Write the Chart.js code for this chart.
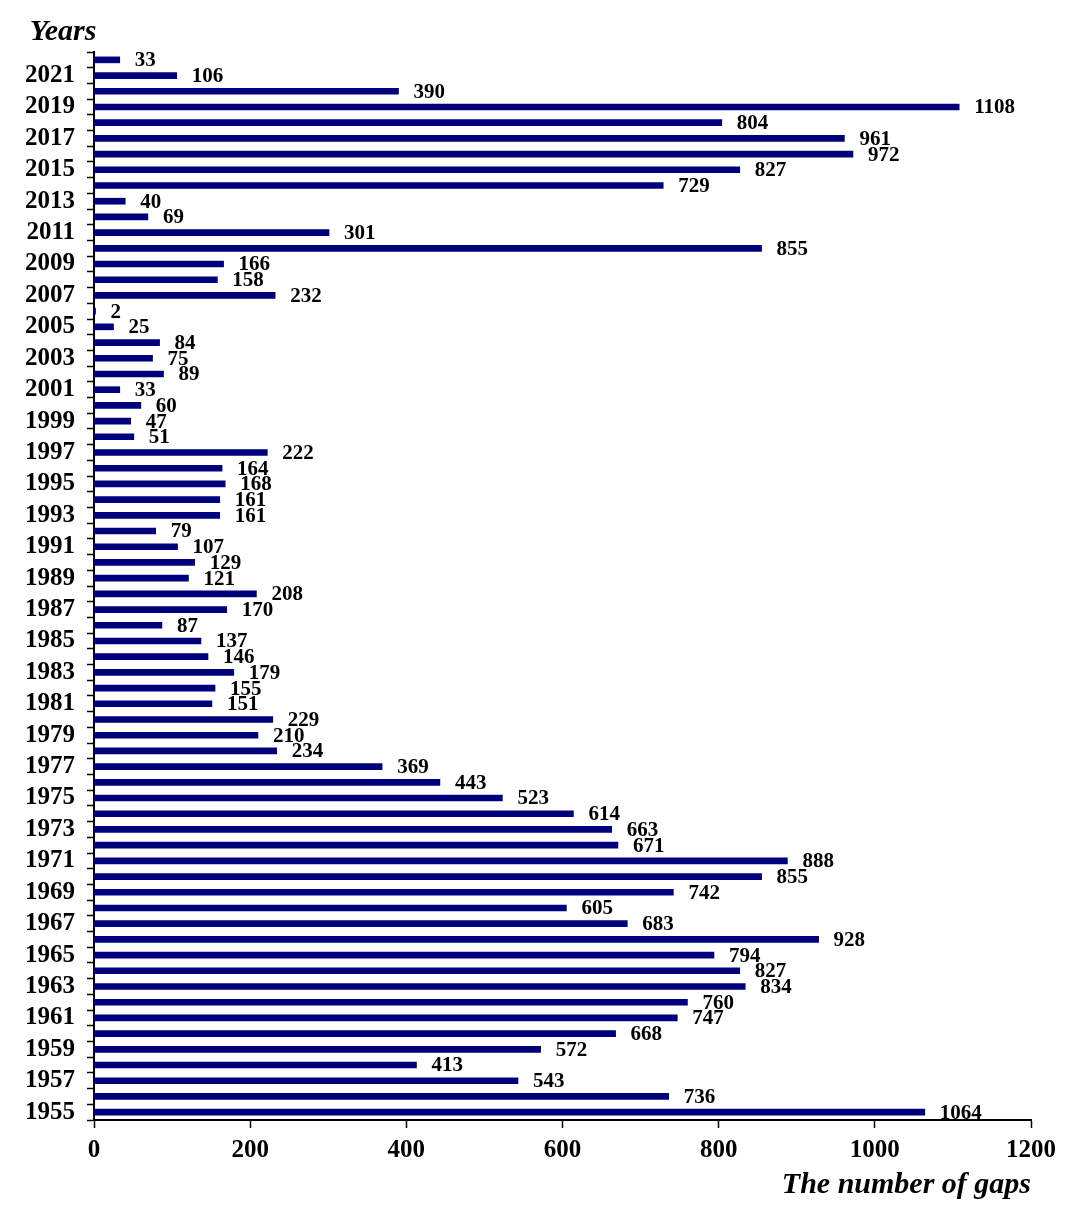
<!DOCTYPE html>
<html lang="en">
<head>
<meta charset="UTF-8">
<title>The number of gaps by year</title>
<script src="https://cdn.jsdelivr.net/npm/chart.js"></script>
<style>
    body { margin: 0; background: #fff; }
    #wrap { width: 1087px; height: 1213px; }
</style>
</head>
<body>
<div id="wrap"><canvas id="gaps"></canvas></div>
<script>
// years from top (2022) to bottom (1955)
const years = [2022, 2021, 2020, 2019, 2018, 2017, 2016, 2015, 2014, 2013, 2012, 2011, 2010,
    2009, 2008, 2007, 2006, 2005, 2004, 2003, 2002, 2001, 2000, 1999, 1998, 1997, 1996,
    1995, 1994, 1993, 1992, 1991, 1990, 1989, 1988, 1987, 1986, 1985, 1984, 1983, 1982,
    1981, 1980, 1979, 1978, 1977, 1976, 1975, 1974, 1973, 1972, 1971, 1970, 1969, 1968,
    1967, 1966, 1965, 1964, 1963, 1962, 1961, 1960, 1959, 1958, 1957, 1956, 1955];

const gaps = [33, 106, 390, 1108, 804, 961, 972, 827, 729, 40, 69, 301, 855,
    166, 158, 232, 2, 25, 84, 75, 89, 33, 60, 47, 51, 222, 164,
    168, 161, 161, 79, 107, 129, 121, 208, 170, 87, 137, 146, 179, 155,
    151, 229, 210, 234, 369, 443, 523, 614, 663, 671, 888, 855, 742, 605,
    683, 928, 794, 827, 834, 760, 747, 668, 572, 413, 543, 736, 1064];

const xTicks = [0, 200, 400, 600, 800, 1000, 1200];

const serif = '"Liberation Serif", "Times New Roman", serif';

// value labels at the end of each bar + "Years" caption
const barLabels = {
    id: 'barLabels',
    afterDatasetsDraw(chart) {
        const ctx = chart.ctx;
        const meta = chart.getDatasetMeta(0);
        ctx.save();
        ctx.fillStyle = '#000';
        ctx.font = 'bold 21px ' + serif;
        ctx.textAlign = 'left';
        ctx.textBaseline = 'middle';
        meta.data.forEach((bar, i) => {
            ctx.fillText(gaps[i], bar.x + 15, bar.y + 1);
        });
        ctx.font = 'italic bold 30px ' + serif;
        ctx.textAlign = 'center';
        ctx.fillText('Years', chart.chartArea.left - 31, chart.chartArea.top - 20);
        ctx.restore();
    }
};

new Chart(document.getElementById('gaps'), {
    type: 'bar',
    data: {
        labels: years,
        datasets: [{
            data: gaps,
            backgroundColor: '#00007c',
            barThickness: 6
        }]
    },
    options: {
        indexAxis: 'y',
        responsive: true,
        maintainAspectRatio: false,
        animation: false,
        layout: { padding: { top: 52, right: 56, left: 0, bottom: 0 } },
        plugins: { legend: { display: false }, tooltip: { enabled: false } },
        scales: {
            y: {
                afterFit(scale) { scale.width = 94; },
                grid: { drawOnChartArea: false, tickLength: 7, tickColor: '#000', tickWidth: 1.5, offset: true },
                border: { color: '#000', width: 2 },
                ticks: {
                    autoSkip: false,
                    padding: 12,
                    color: '#000',
                    font: { family: serif, size: 25, weight: 'bold' },
                    callback(v, i) { return years[i] % 2 === 1 ? String(years[i]) : ''; }
                }
            },
            x: {
                min: 0,
                max: 1200,
                afterFit(scale) { scale.height = 93; },
                afterBuildTicks(scale) { scale.ticks = xTicks.map(v => ({ value: v })); },
                grid: { drawOnChartArea: false, tickLength: 8, tickColor: '#000', tickWidth: 1.5 },
                border: { color: '#000', width: 2 },
                ticks: {
                    padding: 8,
                    color: '#000',
                    font: { family: serif, size: 25, weight: 'bold' },
                    callback(v) { return String(v); }
                },
                title: {
                    display: true,
                    text: 'The number of gaps',
                    align: 'end',
                    color: '#000',
                    padding: { top: 0, bottom: 10 },
                    font: { family: serif, size: 30, weight: 'bold', style: 'italic' }
                }
            }
        }
    },
    plugins: [barLabels]
});
</script>
</body>
</html>
